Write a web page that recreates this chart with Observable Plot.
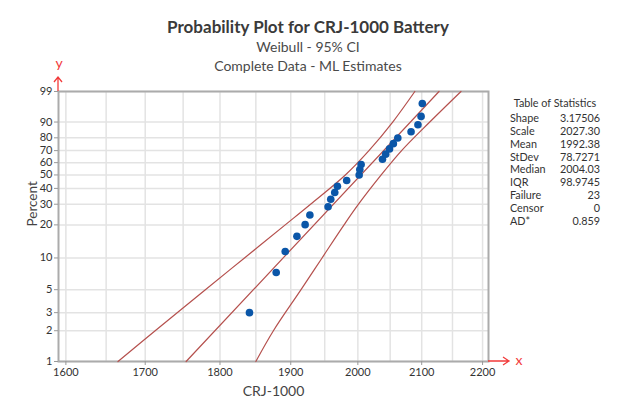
<!DOCTYPE html>
<html>
<head>
<meta charset="utf-8">
<script src="https://cdn.jsdelivr.net/npm/d3@7"></script>
<script src="https://cdn.jsdelivr.net/npm/@observablehq/plot@0.6"></script>
<style>
  html, body { margin: 0; padding: 0; background: #fff; }
  #wrap { position: relative; width: 622px; height: 414px; overflow: hidden; font-family: Lato, "Open Sans", sans-serif; }
  #head { position: relative; height: 78px; }
  #head div { position: absolute; left: 0; width: 616px; text-align: center; white-space: nowrap; }
  .t1 { top: 18px; font-size: 17px; line-height: 17px; font-weight: bold; color: #3a3a3a; }
  .t2 { font-size: 14px; line-height: 14px; color: #4a4a4a; }
  #stats { position: absolute; left: 510px; top: 97px; width: 90px; font-size: 10.8px; line-height: 12.8px; color: #333; }
  #stats .cap { text-align: center; margin-bottom: 2.4px; white-space: nowrap; }
  #stats .row { display: flex; justify-content: space-between; }
  #chart svg { display: block; }
</style>
</head>
<body>
<div id="wrap">
  <div id="head">
    <div class="t1" id="title"></div>
    <div class="t2" id="sub1" style="top:40px"></div>
    <div class="t2" id="sub2" style="top:59px"></div>
  </div>
  <div id="chart"></div>
  <div id="stats"></div>
</div>
<script>
// ---- text ----
const titleText = "Probability Plot for CRJ-1000 Battery";
const subtitle1 = "Weibull - 95% CI";
const subtitle2 = "Complete Data - ML Estimates";
const xLabel = "CRJ-1000";
const yLabel = "Percent";

// ---- ticks ----
const xTicks = [1600, 1700, 1800, 1900, 2000, 2100, 2200];
const xGrid = [1600, 1650, 1700, 1750, 1800, 1850, 1900, 1950, 2000, 2050, 2100, 2150, 2200];
const yTicks = [1, 2, 3, 5, 10, 20, 30, 40, 50, 60, 70, 80, 90, 99];

// ---- data points ----
const failureX = [1841, 1879, 1892, 1909, 1921, 1928, 1955, 1959, 1965, 1969, 1983, 2002,
                  2003, 2005, 2038, 2043, 2049, 2055, 2062, 2083, 2094, 2099, 2101];
const failurePct = [3.0, 7.3, 11.5, 15.8, 20.1, 24.4, 28.6, 32.9, 37.2, 41.5, 45.7, 50.0,
                    54.3, 58.5, 62.8, 67.1, 71.4, 75.6, 79.9, 84.2, 88.5, 92.7, 97.0];

// ---- fitted line and 95% CI ----
const fitPct = [1, 99];
const fitX = [1754, 2128];
const ciPct = [1, 2, 5, 10, 20, 30, 50, 70, 90, 99];
const ciLowerX = [1665, 1713, 1780, 1834, 1892, 1929, 1981, 2017, 2054, 2089];
const ciUpperX = [1850, 1875, 1915, 1946, 1979, 2001, 2036, 2068, 2113, 2164];

// ---- table of statistics ----
const statNames = ["Shape", "Scale", "Mean", "StDev", "Median", "IQR", "Failure", "Censor", "AD*"];
const statValues = ["3.17506", "2027.30", "1992.38", "78.7271", "2004.03", "98.9745", "23", "0", "0.859"];

// Weibull probability-paper transform for the y scale
const W = p => Math.log(-Math.log(1 - p / 100));

const points = failureX.map((x, i) => ({x, p: failurePct[i]}));
const fit = fitX.map((x, i) => ({x, p: fitPct[i]}));
const lower = ciLowerX.map((x, i) => ({x, p: ciPct[i]}));
const upper = ciUpperX.map((x, i) => ({x, p: ciPct[i]}));
const yTickW = yTicks.map(W);
const yLabelOf = new Map(yTicks.map((p, i) => [yTickW[i], String(p)]));

const lineColor = "#b5504d";
const chart = Plot.plot({
  width: 622,
  height: 336,
  marginLeft: 58,
  marginRight: 134,
  marginTop: 13,
  marginBottom: 53,
  style: {fontFamily: "Lato, 'Open Sans', sans-serif", fontSize: "11px", color: "#333", overflow: "visible", background: "transparent"},
  x: {type: "log", domain: [1591, 2210]},
  y: {type: "linear", domain: [W(1), W(99)]},
  marks: [
    Plot.gridX(xGrid, {stroke: "#e3e3e3", strokeOpacity: 1, strokeWidth: 1.5}),
    Plot.gridY(yTickW, {stroke: "#e3e3e3", strokeOpacity: 1, strokeWidth: 1.5}),
    Plot.frame({stroke: "#ababab", strokeWidth: 2}),
    Plot.axisX(xTicks, {tickSize: 4, tickPadding: 3, stroke: "#999", fill: "#333", tickFormat: d => String(d), label: null}),
    Plot.axisY(yTickW, {tickSize: 4, tickPadding: 2, stroke: "#999", fill: "#333", tickFormat: d => yLabelOf.get(d), label: null}),
    Plot.line(lower, {x: "x", y: d => W(d.p), stroke: lineColor, strokeWidth: 1.2, curve: "catmull-rom"}),
    Plot.line(fit, {x: "x", y: d => W(d.p), stroke: lineColor, strokeWidth: 1.2}),
    Plot.line(upper, {x: "x", y: d => W(d.p), stroke: lineColor, strokeWidth: 1.2, curve: "catmull-rom"}),
    Plot.dot(points, {x: "x", y: d => W(d.p), r: 3.8, fill: "#0a56a8", stroke: null}),
    Plot.text([xLabel], {frameAnchor: "bottom", dy: 34, fontSize: 14, fill: "#444"}),
    Plot.text([yLabel], {frameAnchor: "left", dx: -26, rotate: -90, fontSize: 13.5, fill: "#444"})
  ]
});
document.getElementById("chart").appendChild(chart);

// red axis arrows with x / y labels
const xr = chart.scale("x").range, yr = chart.scale("y").range;
const svg = d3.select(chart);
const red = "#f23a3a";
const g = svg.append("g").attr("fill", "none").attr("stroke", red).attr("stroke-width", 1.3);
const xb = xr[1], yb = yr[0];
g.append("path").attr("d", `M${xb},${yb}H${xb + 21}M${xb + 15},${yb - 4}L${xb + 21},${yb}L${xb + 15},${yb + 4}`);
const xl = xr[0], yt = yr[1];
g.append("path").attr("d", `M${xl},${yt}V${yt - 14}M${xl - 4},${yt - 9}L${xl},${yt - 14}L${xl + 4},${yt - 9}`);
svg.append("text").attr("x", xb + 31).attr("y", yb + 4).attr("fill", red).attr("font-size", 14).attr("text-anchor", "middle").text("x");
svg.append("text").attr("x", xl + 1).attr("y", yt - 23).attr("fill", red).attr("font-size", 14).attr("text-anchor", "middle").text("y");

document.getElementById("title").textContent = titleText;
document.getElementById("sub1").textContent = subtitle1;
document.getElementById("sub2").textContent = subtitle2;

const stats = document.getElementById("stats");
const cap = document.createElement("div");
cap.className = "cap";
cap.textContent = "Table of Statistics";
stats.appendChild(cap);
statNames.forEach((n, i) => {
  const r = document.createElement("div");
  r.className = "row";
  const a = document.createElement("span"); a.textContent = n;
  const b = document.createElement("span"); b.textContent = statValues[i];
  r.appendChild(a); r.appendChild(b);
  stats.appendChild(r);
});
</script>
</body>
</html>
